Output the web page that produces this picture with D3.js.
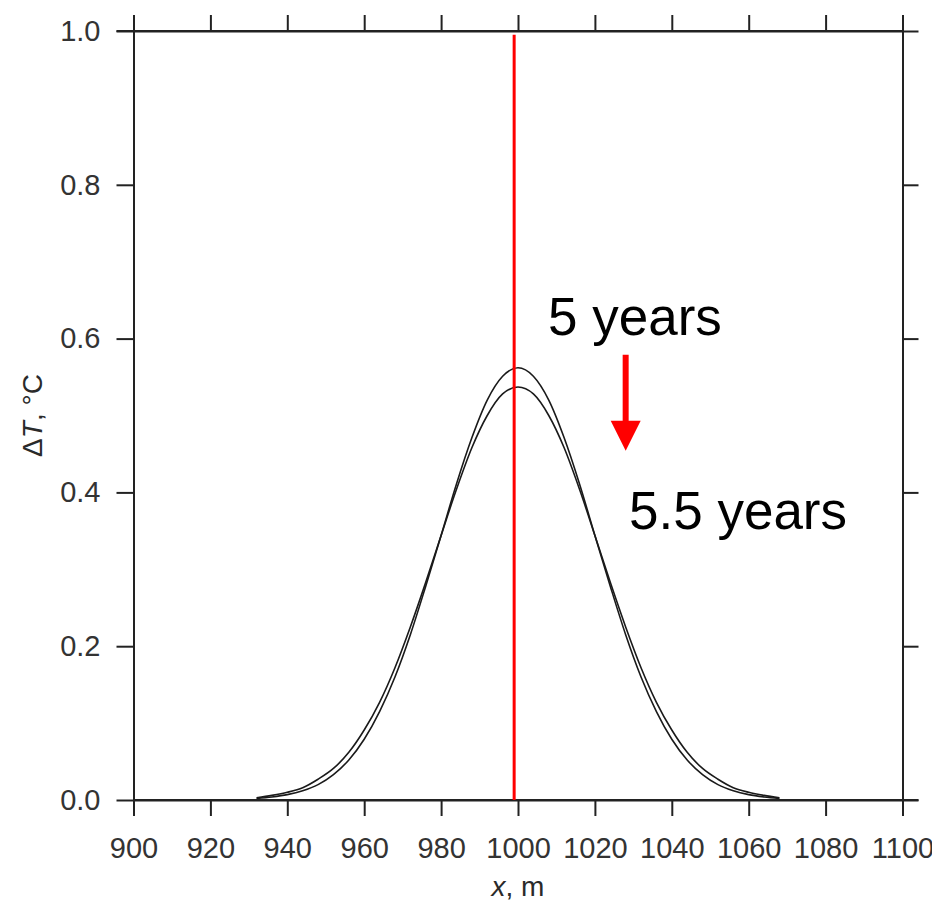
<!DOCTYPE html>
<html>
<head>
<meta charset="utf-8">
<script src="https://cdn.jsdelivr.net/npm/d3@7/dist/d3.min.js"></script>
<style>
  html, body { margin: 0; padding: 0; background: #fff; }
  svg { display: block; }
  .tick text { font-family: "Liberation Sans", Arial, sans-serif; }
</style>
</head>
<body>
<svg id="chart" width="932" height="902"></svg>
<script>
// Temperature anomaly profiles ΔT(x) after 5 and 5.5 years
const xPositions = [932, 936, 940, 944, 948, 952, 956, 960, 964, 968, 972, 976, 980, 984, 988, 992, 996,
  1000, 1004, 1008, 1012, 1016, 1020, 1024, 1028, 1032, 1036, 1040, 1044, 1048, 1052, 1056, 1060, 1064, 1068];
const dT5years = [0.002, 0.004, 0.007, 0.012, 0.020, 0.033, 0.052, 0.079, 0.115, 0.160, 0.215, 0.278, 0.344,
  0.411, 0.471, 0.520, 0.551, 0.562, 0.551, 0.520, 0.471, 0.411, 0.344, 0.278, 0.215, 0.160, 0.115, 0.079,
  0.052, 0.033, 0.020, 0.012, 0.007, 0.004, 0.002];
const dT55years = [0.003, 0.006, 0.010, 0.016, 0.027, 0.041, 0.062, 0.091, 0.127, 0.172, 0.225, 0.283, 0.344,
  0.404, 0.458, 0.500, 0.528, 0.537, 0.528, 0.500, 0.458, 0.404, 0.344, 0.283, 0.225, 0.172, 0.127, 0.091,
  0.062, 0.041, 0.027, 0.016, 0.010, 0.006, 0.003];
const xTicks = [900, 920, 940, 960, 980, 1000, 1020, 1040, 1060, 1080, 1100];
const yTicks = [0.0, 0.2, 0.4, 0.6, 0.8, 1.0];
const markerX = 999;          // red vertical marker position, m
const arrowFrom = 0.579;      // arrow from label "5 years" ...
const arrowTo = 0.454;        // ... down towards "5.5 years"
const arrowX = 1028;

const svg = d3.select("#chart");
const plotLeft = 133.5, plotRight = 902.5, plotTop = 31, plotBottom = 800;

const x = d3.scaleLinear().domain([900, 1100]).range([plotLeft, plotRight]);
const y = d3.scaleLinear().domain([0, 1]).range([plotBottom, plotTop]);

const axisColor = "#222";
const tickFont = "29px";

function styleAxis(g, showLabels) {
  g.select(".domain").attr("stroke", axisColor).attr("stroke-width", 2);
  g.selectAll(".tick line").attr("stroke", axisColor).attr("stroke-width", 2);
  g.selectAll(".tick text").attr("fill", "#333").style("font-size", tickFont);
  if (!showLabels) g.selectAll(".tick text").remove();
}

// bottom axis
svg.append("g")
  .attr("transform", `translate(0,${plotBottom})`)
  .call(d3.axisBottom(x).tickValues(xTicks).tickSize(16).tickSizeOuter(0).tickPadding(12).tickFormat(d3.format("d")))
  .call(g => styleAxis(g, true))
  .call(g => g.selectAll(".tick text").attr("dy", "0.71em").attr("y", 37));

// top axis
svg.append("g")
  .attr("transform", `translate(0,${plotTop})`)
  .call(d3.axisTop(x).tickValues(xTicks).tickSize(16).tickSizeOuter(0))
  .call(g => styleAxis(g, false));

// left axis
svg.append("g")
  .attr("transform", `translate(${plotLeft},0)`)
  .call(d3.axisLeft(y).tickValues(yTicks).tickSize(17).tickSizeOuter(0).tickPadding(16).tickFormat(d3.format(".1f")))
  .call(g => styleAxis(g, true));

// right axis
svg.append("g")
  .attr("transform", `translate(${plotRight},0)`)
  .call(d3.axisRight(y).tickValues(yTicks).tickSize(16).tickSizeOuter(0))
  .call(g => styleAxis(g, false));

// axis lines extend across the outer tick marks at the corners
svg.append("line").attr("x1", plotLeft - 17).attr("x2", plotRight).attr("y1", y(1)).attr("y2", y(1))
  .attr("stroke", axisColor).attr("stroke-width", 2);
svg.append("line").attr("x1", plotLeft).attr("x2", plotRight + 16).attr("y1", y(0)).attr("y2", y(0))
  .attr("stroke", axisColor).attr("stroke-width", 2);

// profiles
const line = d3.line().x(d => x(d[0])).y(d => y(d[1])).curve(d3.curveMonotoneX);
[dT5years, dT55years].forEach(series => {
  svg.append("path")
    .datum(xPositions.map((xv, i) => [xv, series[i]]))
    .attr("fill", "none")
    .attr("stroke", "#1a1a1a")
    .attr("stroke-width", 1.6)
    .attr("d", line);
});

// red vertical marker
svg.append("line")
  .attr("x1", x(markerX)).attr("x2", x(markerX))
  .attr("y1", y(0.995)).attr("y2", y(0))
  .attr("stroke", "#ff0000").attr("stroke-width", 3);

// arrow between the two labels
const ax = x(arrowX);
const headLen = 30, headHalf = 15;
svg.append("line")
  .attr("x1", ax).attr("x2", ax)
  .attr("y1", y(arrowFrom)).attr("y2", y(arrowTo) - headLen + 2)
  .attr("stroke", "#ff0000").attr("stroke-width", 6);
svg.append("path")
  .attr("d", `M${ax - headHalf},${y(arrowTo) - headLen} L${ax + headHalf},${y(arrowTo) - headLen} L${ax},${y(arrowTo)} Z`)
  .attr("fill", "#ff0000");

// annotations
const annFont = "Liberation Sans, Arial, sans-serif";
svg.append("text").attr("x", 548).attr("y", 335)
  .attr("font-family", annFont).attr("font-size", 53).attr("fill", "#000")
  .text("5 years");
svg.append("text").attr("x", 629).attr("y", 529)
  .attr("font-family", annFont).attr("font-size", 53).attr("fill", "#000")
  .text("5.5 years");

// axis titles
const yTitle = svg.append("text")
  .attr("transform", `translate(42,${(plotTop + plotBottom) / 2}) rotate(-90)`)
  .attr("text-anchor", "middle")
  .attr("font-family", annFont).attr("font-size", 28).attr("fill", "#2a2a2a");
yTitle.append("tspan").text("Δ");
yTitle.append("tspan").attr("font-style", "italic").text("T");
yTitle.append("tspan").text(", °C");

const xTitle = svg.append("text")
  .attr("x", (plotLeft + plotRight) / 2).attr("y", 896)
  .attr("text-anchor", "middle")
  .attr("font-family", annFont).attr("font-size", 28).attr("fill", "#2a2a2a");
xTitle.append("tspan").attr("font-style", "italic").text("x");
xTitle.append("tspan").text(", m");
</script>
</body>
</html>
